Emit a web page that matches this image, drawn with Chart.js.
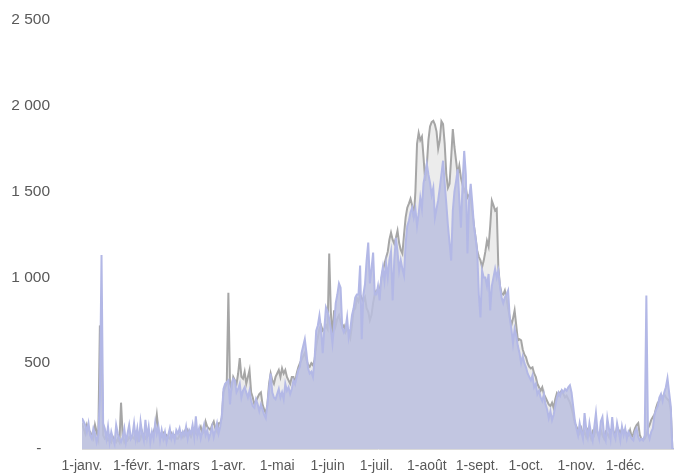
<!DOCTYPE html>
<html lang="fr">
<head>
<meta charset="utf-8">
<title>Graphique annuel</title>
<script src="https://cdn.jsdelivr.net/npm/chart.js@4.4.1/dist/chart.umd.min.js"></script>
<style>
  html, body { margin: 0; padding: 0; background: #fff; overflow: hidden; }
  canvas { display: block; }
</style>
</head>
<body>
<canvas id="graphique" width="674" height="476"></canvas>
<script>
// libellés de l'axe des x (1er de chaque mois) et jour de l'année correspondant
var moisLabels = ['1-janv.', '1-févr.', '1-mars', '1-avr.', '1-mai', '1-juin', '1-juil.', '1-août', '1-sept.', '1-oct.', '1-nov.', '1-déc.'];
var debutsMois = [0, 31, 59, 90, 120, 151, 181, 212, 243, 273, 304, 334];

// valeurs journalières (une ligne par mois)
var serieGrise = [
  150,120,90,140,110,100,80,60,140,100,60,720,600,80,60,70,50,60,40,70,50,40,60,40,270,80,40,60,50,70,60,
  70,60,90,50,80,60,100,70,60,90,80,70,90,100,130,200,110,80,70,90,60,80,70,60,90,70,80,60,
  60,80,90,70,100,80,110,90,70,100,120,90,80,110,130,90,100,160,130,120,110,140,160,120,100,150,150,180,330,360,380,
  910,380,350,420,400,380,440,530,420,410,450,380,420,460,330,300,260,280,300,320,330,260,230,210,260,380,440,400,380,420,
  440,460,420,470,440,460,420,400,380,420,420,383,440,476,500,520,540,560,520,490,480,500,488,520,600,650,700,720,690,700,720,
  700,1139,800,650,808,720,760,780,740,709,720,680,700,690,651,720,808,820,880,860,900,880,860,883,820,800,750,780,850,900,
  924,924,924,980,1040,1080,1116,1150,1220,1261,1220,1197,1230,1272,1200,1160,1139,1250,1350,1406,1430,1458,1420,1348,1500,1778,1842,1800,1820,1700,1563,
  1650,1800,1880,1905,1912,1890,1850,1750,1800,1910,1894,1780,1600,1522,1545,1700,1865,1760,1680,1600,1650,1580,1540,1500,1522,1465,1480,1465,1380,1300,1232,
  1156,1120,1100,1060,1098,1150,1214,1180,1300,1447,1420,1390,1400,1057,950,906,900,924,880,820,767,720,760,808,720,633,640,633,580,550,
  535,500,480,470,476,440,420,380,360,340,360,320,300,280,260,250,270,240,290,325,310,330,340,320,300,310,290,270,240,200,150,
  130,110,90,120,80,100,70,110,90,60,100,80,120,90,70,110,80,60,100,90,70,110,120,100,80,130,110,90,120,100,
  100,90,80,110,70,90,120,140,151,80,60,50,60,80,120,140,170,186,200,240,270,280,300,300,320,300,290,280,230,0,0
];

var serieBleue = [
  180,160,140,100,150,80,60,120,90,40,80,300,1130,150,120,60,130,40,100,60,30,140,90,60,40,70,120,40,90,140,60,
  80,150,60,120,40,160,90,50,170,70,130,40,100,60,150,90,130,50,110,60,100,40,80,120,60,90,50,110,
  90,120,70,100,80,130,60,110,90,140,70,190,80,120,60,100,140,80,110,60,90,130,70,110,150,90,130,200,350,380,390,
  400,260,380,410,400,330,350,380,300,340,360,330,300,340,280,250,240,290,260,220,260,230,200,180,260,350,440,330,300,290,
  320,350,300,330,290,380,340,360,320,350,400,380,420,460,480,560,600,640,560,470,440,450,420,520,690,720,779,700,558,700,825,
  800,760,700,616,720,850,900,965,940,709,680,700,767,650,700,780,820,883,900,900,1069,640,900,960,1100,1203,965,1050,1145,900,
  900,950,866,1000,1060,980,1080,1000,1100,1150,866,1100,1230,1150,1040,1100,1050,1011,1200,1300,1330,1380,1406,1350,1400,1300,1371,1464,1400,1550,1600,
  1662,1600,1550,1480,1522,1348,1400,1450,1522,1600,1680,1550,1430,1300,1200,1098,1390,1500,1560,1630,1450,1290,1550,1737,1600,1139,1450,1545,1430,1300,1230,
  1150,900,767,1040,1000,1000,950,1020,808,950,1000,1050,1000,1040,950,883,850,883,900,924,767,700,616,700,660,600,560,500,540,500,
  476,440,420,400,430,360,380,320,340,300,280,320,260,230,180,220,168,200,250,300,330,310,343,330,350,340,360,372,330,250,170,
  120,80,150,100,60,209,120,70,150,90,50,130,209,100,60,160,186,80,50,180,120,60,186,90,60,150,100,50,130,80,
  120,60,100,80,60,50,100,120,70,50,60,50,80,895,90,60,100,120,200,230,250,300,320,280,330,360,412,330,250,0,0
];

function enPoints(serie) {
  return serie.map(function(v, i) { return { x: i, y: v }; });
}

function milliers(v) {
  if (v === 0) return '-  ';
  return String(v).replace(/\B(?=(\d{3})+(?!\d))/g, ' ');
}

var policeX = { family: "'Liberation Sans', Arial, sans-serif", size: 14 };
var policeY = { family: "'Liberation Sans', Arial, sans-serif", size: 15.5 };

var ctx = document.getElementById('graphique');

var graphique = new Chart(ctx, {
  type: 'line',
  data: {
    datasets: [
      {
        label: 'Bleu',
        data: enPoints(serieBleue),
        borderColor: '#b3b8e6',
        backgroundColor: 'rgba(187, 191, 223, 0.85)',
        borderWidth: 2,
        fill: 'origin',
        pointRadius: 0,
        tension: 0,
        order: 1
      },
      {
        label: 'Gris',
        data: enPoints(serieGrise),
        borderColor: '#a6a6a6',
        backgroundColor: '#ececec',
        borderWidth: 2,
        fill: 'origin',
        pointRadius: 0,
        tension: 0,
        order: 2
      }
    ]
  },
  options: {
    responsive: false,
    animation: false,
    devicePixelRatio: 1,
    layout: { padding: { left: 8, top: 20, right: 0, bottom: 0 } },
    plugins: {
      legend: { display: false },
      tooltip: { enabled: false }
    },
    scales: {
      x: {
        type: 'linear',
        min: 0,
        max: 364,
        afterBuildTicks: function(scale) {
          scale.ticks = debutsMois.map(function(v) { return { value: v }; });
        },
        afterFit: function(scale) { scale.height = 27; },
        ticks: {
          autoSkip: false,
          maxRotation: 0,
          padding: 9,
          color: '#595959',
          font: policeX,
          callback: function(value) {
            var k = debutsMois.indexOf(value);
            return k >= 0 ? moisLabels[k] : '';
          }
        },
        grid: { display: false, drawTicks: false },
        border: { display: true, color: '#d9d9d9', width: 1 }
      },
      y: {
        min: 0,
        max: 2500,
        afterFit: function(scale) { scale.width = 74; },
        ticks: {
          stepSize: 500,
          padding: 0,
          color: '#595959',
          font: policeY,
          callback: milliers
        },
        // l'écart entre étiquettes et zone du graphique passe par tickLength
        grid: { display: false, drawTicks: true, tickLength: 32 },
        border: { display: false }
      }
    }
  }
});
</script>
</body>
</html>
